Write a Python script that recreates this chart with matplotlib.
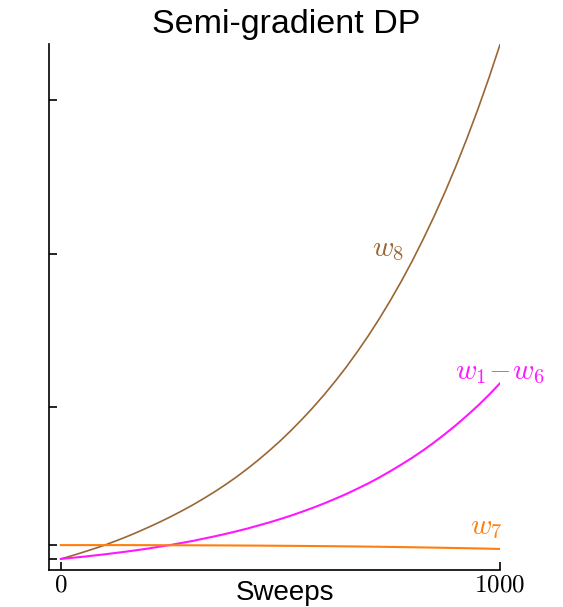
import numpy as np
import matplotlib
matplotlib.use("Agg")
import matplotlib.pyplot as plt

plt.rcParams["mathtext.fontset"] = "cm"
plt.rcParams["font.family"] = ["Liberation Sans", "DejaVu Sans"]

# values, every 25 sweeps
sweeps = np.arange(0, 1001, 25)
w8 = [1.0, 3.1, 5.3, 7.6, 10.0, 12.7, 15.5, 18.5, 21.7, 25.0, 28.5,
      32.2, 36.1, 40.3, 44.7, 49.4, 54.4, 59.8, 65.5, 71.6, 78.0,
      84.9, 92.2, 99.9, 108.1, 116.8, 126.0, 135.9, 146.3, 157.4, 169.2,
      181.7, 195.0, 209.2, 224.2, 240.1, 257.1, 275.1, 294.2, 314.5, 336.0]
w1_6 = [1.0, 1.7, 2.4, 3.2, 4.0, 4.9, 5.8, 6.8, 7.8, 9.0, 10.1,
        11.4, 12.7, 14.2, 15.7, 17.3, 19.0, 20.8, 22.8, 24.8, 27.0,
        29.3, 31.8, 34.4, 37.2, 40.2, 43.3, 46.7, 50.2, 54.0, 58.1,
        62.4, 66.9, 71.7, 76.9, 82.4, 88.2, 94.4, 100.9, 107.9, 115.4]
w7 = [10.0, 10.0, 10.0, 10.0, 10.0, 10.0, 10.0, 9.98, 9.96, 9.94, 9.92,
      9.9, 9.88, 9.85, 9.82, 9.79, 9.75, 9.71, 9.67, 9.62, 9.57,
      9.52, 9.46, 9.4, 9.33, 9.26, 9.18, 9.1, 9.01, 8.92, 8.82,
      8.71, 8.6, 8.48, 8.36, 8.23, 8.1, 7.96, 7.82, 7.67, 7.5]

y_ticks = [1, 10, 100, 200, 300]
x_ticks = [0, 1000]

brown = "#9a6633"
magenta = "#ff18ff"
orange = "#ff7f0e"

fig = plt.figure(figsize=(5.63, 6.07), dpi=100)
ax = fig.add_axes([0.087, 0.061, 0.801, 0.8665])

ax.plot(sweeps, w8, color=brown, lw=1.2)
ax.plot(sweeps, w1_6, color=magenta, lw=1.5)
ax.plot(sweeps, w7, color=orange, lw=1.5)

ax.set_xlim(-27, 1000)
ax.set_ylim(-6.2, 336.5)

ax.text(745, 203, r"$w_8$", color=brown, fontsize=21, ha="center", va="center")
ax.text(1000, 123, r"$w_1\!-\!w_6$", color=magenta, fontsize=21, ha="center", va="center")
ax.text(968, 22, r"$w_7$", color=orange, fontsize=21, ha="center", va="center")

ax.set_yticks(y_ticks)
ax.set_yticklabels([])
ax.set_xticks(x_ticks)
ax.set_xticklabels([r"$0$", r"$1000$"], fontsize=18)
ax.tick_params(direction="in", length=6, width=1.2)
ax.tick_params(axis="x", pad=2)

for side in ["top", "right"]:
    ax.spines[side].set_visible(False)
for side in ["left", "bottom"]:
    ax.spines[side].set_linewidth(1.2)

fig.text(286 / 563, 1 - 25 / 607, "Semi-gradient DP", fontsize=24.5, ha="center", va="center")
fig.text(285 / 563, 1 / 607, "Sweeps", fontsize=20, ha="center", va="bottom")

fig.savefig("out.png", dpi=100)
